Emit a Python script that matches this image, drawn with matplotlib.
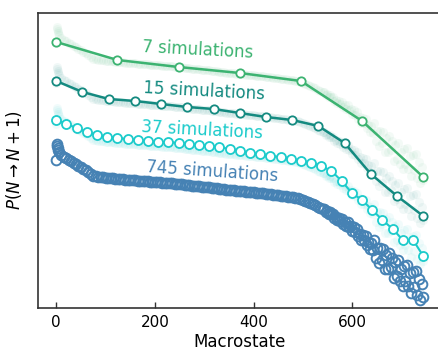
import numpy as np
import matplotlib
matplotlib.use('Agg')
import matplotlib.pyplot as plt

# values (arbitrary log-probability units, offset per curve)
n_7 = np.linspace(0, 744, 7)
p_7 = [2.66, 2.48, 2.41, 2.35, 2.27, 1.87, 1.31]

n_15 = np.linspace(0, 744, 15)
p_15 = [2.27, 2.16, 2.09, 2.07, 2.04, 2.01, 1.99, 1.95, 1.91, 1.88, 1.82, 1.65,
        1.34, 1.12, 0.92]

n_37 = np.linspace(0, 744, 37)
p_37 = [1.88, 1.84, 1.80, 1.76, 1.73, 1.71, 1.70, 1.69, 1.68, 1.67, 1.66, 1.66,
        1.65, 1.64, 1.63, 1.62, 1.61, 1.59, 1.57, 1.55, 1.54, 1.52, 1.51, 1.49,
        1.47, 1.45, 1.42, 1.37, 1.27, 1.15, 1.08, 0.98, 0.88, 0.79, 0.68, 0.68,
        0.52]

# 745 simulations: first macrostates one by one, every 5th up to 535,
# then every 3rd in the noisy tail
n_745 = list(range(0, 5)) + list(range(5, 540, 5)) + list(range(540, 745, 3))
p_745 = [1.48, 1.64, 1.62, 1.60, 1.58,
         1.56, 1.53, 1.51, 1.50, 1.48, 1.47, 1.45, 1.44, 1.42, 1.41,
         1.39, 1.38, 1.36, 1.34, 1.32, 1.32, 1.31, 1.31, 1.31, 1.30,
         1.30, 1.30, 1.30, 1.29, 1.29, 1.29, 1.29, 1.28, 1.28, 1.28,
         1.28, 1.28, 1.27, 1.27, 1.27, 1.27, 1.27, 1.26, 1.26, 1.26,
         1.26, 1.26, 1.25, 1.25, 1.25, 1.25, 1.25, 1.24, 1.24, 1.24,
         1.24, 1.23, 1.23, 1.23, 1.22, 1.22, 1.22, 1.22, 1.21, 1.21,
         1.21, 1.21, 1.20, 1.20, 1.20, 1.19, 1.19, 1.19, 1.18, 1.18,
         1.18, 1.18, 1.17, 1.17, 1.17, 1.17, 1.16, 1.16, 1.16, 1.16,
         1.15, 1.15, 1.15, 1.15, 1.14, 1.14, 1.14, 1.13, 1.13, 1.13,
         1.12, 1.12, 1.12, 1.11, 1.11, 1.11, 1.10, 1.10, 1.09, 1.08,
         1.07, 1.06, 1.05, 1.04, 1.03, 1.01, 1.00,
         # tail, every 3rd macrostate from 540
         0.99, 0.99, 0.96, 0.97, 0.94, 0.96, 0.94, 0.94, 0.90, 0.91,
         0.88, 0.90, 0.87, 0.89, 0.84, 0.86, 0.82, 0.86, 0.81, 0.82,
         0.77, 0.81, 0.76, 0.79, 0.72, 0.74, 0.68, 0.73, 0.68, 0.72,
         0.63, 0.66, 0.59, 0.65, 0.58, 0.68, 0.50, 0.60, 0.45, 0.60,
         0.48, 0.59, 0.39, 0.53, 0.39, 0.55, 0.41, 0.50, 0.30, 0.46,
         0.32, 0.48, 0.27, 0.39, 0.22, 0.42, 0.27, 0.43, 0.22, 0.35,
         0.15, 0.36, 0.21, 0.37, 0.13, 0.29, 0.08, 0.24, 0.11]

col_7 = '#3cb371'
col_15 = '#148a80'
col_37 = '#1ccbcb'
col_745 = '#4682b4'

# shift of each coarse curve above the 745 curve (for the faint background)
off_7 = 1.17
off_15 = 0.77
off_37 = 0.36

fig = plt.figure(figsize=(4.38, 3.51), dpi=100)
ax = fig.add_axes([38/438, 43/351, 403/438, 295/351])

n_745 = np.array(n_745)
p_745 = np.array(p_745)

for off, c in [(off_7, col_7), (off_15, col_15), (off_37, col_37)]:
    ax.plot(n_745, p_745 + off, 'o', color=c, alpha=0.06, ms=6.5, mew=0, zorder=1)

ax.plot(n_745, p_745, 'o', mfc='none', mec=col_745, ms=7, mew=1.4, zorder=2)

ax.plot(n_37, p_37, '-o', color=col_37, mfc='white', mec=col_37, ms=6.5, mew=1.3, lw=1.5, zorder=3)
ax.plot(n_15, p_15, '-o', color=col_15, mfc='white', mec=col_15, ms=6, mew=1.3, lw=1.8, zorder=3)
ax.plot(n_7, p_7, '-o', color=col_7, mfc='white', mec=col_7, ms=6, mew=1.3, lw=1.8, zorder=3)

ax.text(287, 2.58, '7 simulations', color=col_7, fontsize=12, rotation=-3, ha='center', va='center')
ax.text(300, 2.17, '15 simulations', color=col_15, fontsize=12, rotation=-3, ha='center', va='center')
ax.text(296, 1.78, '37 simulations', color=col_37, fontsize=12, rotation=-3, ha='center', va='center')
ax.text(316, 1.36, '745 simulations', color=col_745, fontsize=12, rotation=-4, ha='center', va='center')

ax.set_xlim(-37, 780)
ax.set_ylim(0, 2.95)
ax.set_xticks([0, 200, 400, 600])
ax.set_yticks([])
ax.tick_params(axis='x', direction='in', length=4, width=1, labelsize=11, pad=5, color='#333333')
ax.set_xlabel('Macrostate', fontsize=12, labelpad=2)
ax.set_ylabel(r'$P(N\rightarrow N+1)$', fontsize=12, labelpad=10)
for s in ax.spines.values():
    s.set_color('#333333')
    s.set_linewidth(1.2)

fig.savefig('out.png', dpi=100)
